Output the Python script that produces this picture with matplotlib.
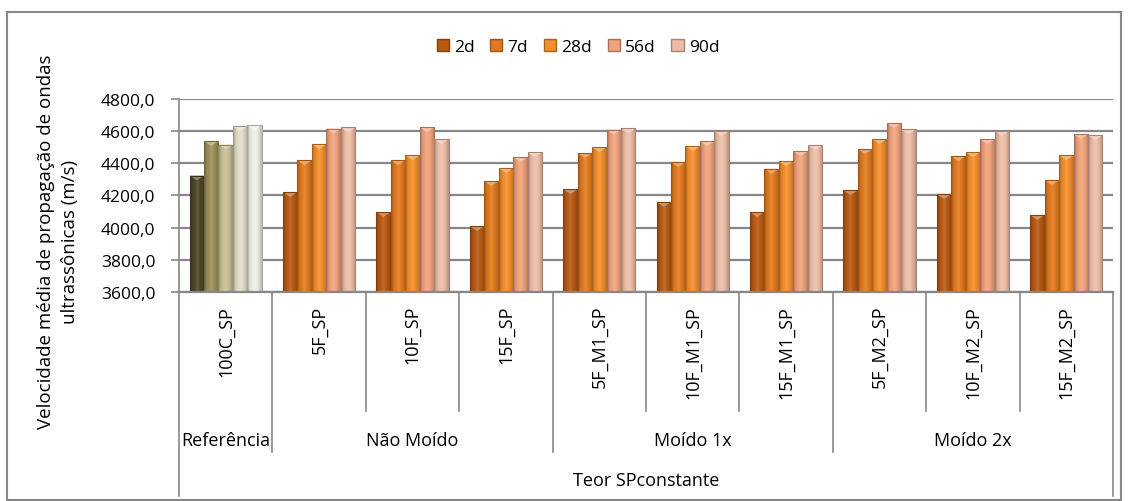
import matplotlib
matplotlib.use("Agg")
import numpy as np
import matplotlib.pyplot as plt
from matplotlib.patches import Patch, Rectangle, Polygon
from matplotlib.colors import to_rgb, LinearSegmentedColormap

plt.rcParams['font.family'] = ['Open Sans', 'DejaVu Sans']

categories = ['100C_SP', '5F_SP', '10F_SP', '15F_SP', '5F_M1_SP', '10F_M1_SP',
              '15F_M1_SP', '5F_M2_SP', '10F_M2_SP', '15F_M2_SP']
groups = ['Referência', 'Não Moído', 'Moído 1x', 'Moído 2x']
group_spans = [(0, 0), (1, 3), (4, 6), (7, 9)]
series = ['2d', '7d', '28d', '56d', '90d']

v2d = [4324, 4221, 4097, 4010, 4239, 4159, 4097, 4233, 4208, 4078]
v7d = [4537, 4419, 4419, 4289, 4463, 4407, 4366, 4488, 4444, 4295]
v28d = [4517, 4519, 4450, 4370, 4500, 4506, 4413, 4550, 4469, 4450]
v56d = [4630, 4616, 4624, 4438, 4610, 4537, 4475, 4651, 4550, 4581]
v90d = [4637, 4624, 4550, 4469, 4618, 4599, 4512, 4612, 4601, 4575]
values = [v2d, v7d, v28d, v56d, v90d]

orange = ['#b85a14', '#e07a20', '#f28e2c', '#f0a27c', '#ecbca6']
olive = ['#4e4629', '#9b9058', '#c9be94', '#dfdcc8', '#efeee6']

ymin, ymax = 3600, 4800
yticks = [3600, 3800, 4000, 4200, 4400, 4600, 4800]
ylabel = 'Velocidade média de propagação de ondas\nultrassônicas (m/s)'
xtitle = 'Teor SPconstante'

W, H = 1129, 502
fig = plt.figure(figsize=(W / 100, H / 100), dpi=100)
ax = fig.add_axes([179 / W, 1 - 293 / H, (1113 - 179) / W, (293 - 100) / H])

grid = '#878787'
x = np.arange(len(categories))
bw = 0.155
offsets = (np.arange(5) - 2) * bw


def shade(c, f):
    r = np.array(to_rgb(c))
    if f >= 1:
        return tuple(r + (1 - r) * (f - 1))
    return tuple(r * f)


prof = [0.72, 0.92, 1.0, 1.12, 1.0, 0.9, 0.78]
for i in range(5):
    cols = [olive[i]] + [orange[i]] * 9
    bars = ax.bar(x + offsets[i], np.array(values[i]) - ymin, bw, bottom=ymin,
                  color=cols, edgecolor='none', zorder=3)
    for j, b in enumerate(bars):
        c = cols[j]
        cmap = LinearSegmentedColormap.from_list('g', [shade(c, f) for f in prof])
        x0, y0, w, h = b.get_x(), b.get_y(), b.get_width(), b.get_height()
        top = y0 + h
        im = ax.imshow(np.linspace(0, 1, 64)[None, :], cmap=cmap, aspect='auto',
                       extent=[x0, x0 + w, y0, top], zorder=3.1)
        im.set_clip_path(b)
        th = 30
        tri = Polygon([(x0, top), (x0 + w, top), (x0 + w / 2, top - th)],
                      closed=True, facecolor=shade(c, 1.35), edgecolor='none',
                      zorder=3.2)
        ax.add_patch(tri)
        ax.add_patch(Rectangle((x0, y0), w, h, fill=False,
                               edgecolor=shade(c, 0.7), lw=0.8, zorder=3.3))

ax.set_xlim(-0.5, len(categories) - 0.5)
ax.set_ylim(ymin, ymax)
ax.set_yticks(yticks)
ax.set_yticklabels([f'{t:.1f}'.replace('.', ',') for t in yticks], fontsize=12.5)
ax.tick_params(axis='y', length=6, width=1.2, color=grid, pad=11)
ax.set_xticks([])
ax.grid(axis='y', color=grid, lw=1.6, zorder=0)
for s in ['top', 'right', 'bottom']:
    ax.spines[s].set_visible(False)
ax.spines['left'].set_color(grid)
ax.spines['left'].set_linewidth(1.2)
ax.axhline(ymin, color=grid, lw=1.6, zorder=4, clip_on=False)

# hierarchical category axis
tr = ax.get_xaxis_transform()
ph = 293 - 100


def fy(py):
    return (293 - py) / ph


for k in range(len(categories) + 1):
    xb = k - 0.5
    if k in (0, len(categories)):
        yb = 497
    elif k in (1, 4, 7):
        yb = 453
    else:
        yb = 412
    ax.plot([xb, xb], [0, fy(yb)], transform=tr, color=grid, lw=1.2,
            clip_on=False)

for j, cat in enumerate(categories):
    ax.text(j, fy(306), cat, transform=tr, rotation=90, ha='center', va='top',
            fontsize=13)
for g, (a, b) in zip(groups, group_spans):
    ax.text((a + b) / 2, fy(441), g, transform=tr, ha='center', va='center',
            fontsize=13)
ax.text((len(categories) - 1) / 2, fy(481), xtitle, transform=tr,
        ha='center', va='center', fontsize=13)

fig.text(58 / W, 1 - 242 / H, ylabel, rotation=90, ha='center', va='center',
         multialignment='center', fontsize=13.5, linespacing=1.4)

handles = [Patch(facecolor=orange[i], edgecolor=shade(orange[i], 0.7))
           for i in range(5)]
fig.legend(handles, series, loc='center', bbox_to_anchor=(578 / W, 1 - 48 / H),
           ncol=5, frameon=False, fontsize=12.5, handlelength=0.7,
           handleheight=0.7, handletextpad=0.3, columnspacing=0.9)

fig.patches.append(Rectangle((7 / W, 1 / H), (1121 - 7) / W, (501 - 13) / H,
                             transform=fig.transFigure, fill=False,
                             edgecolor=grid, lw=1.5))

fig.savefig('out.png', dpi=100)
